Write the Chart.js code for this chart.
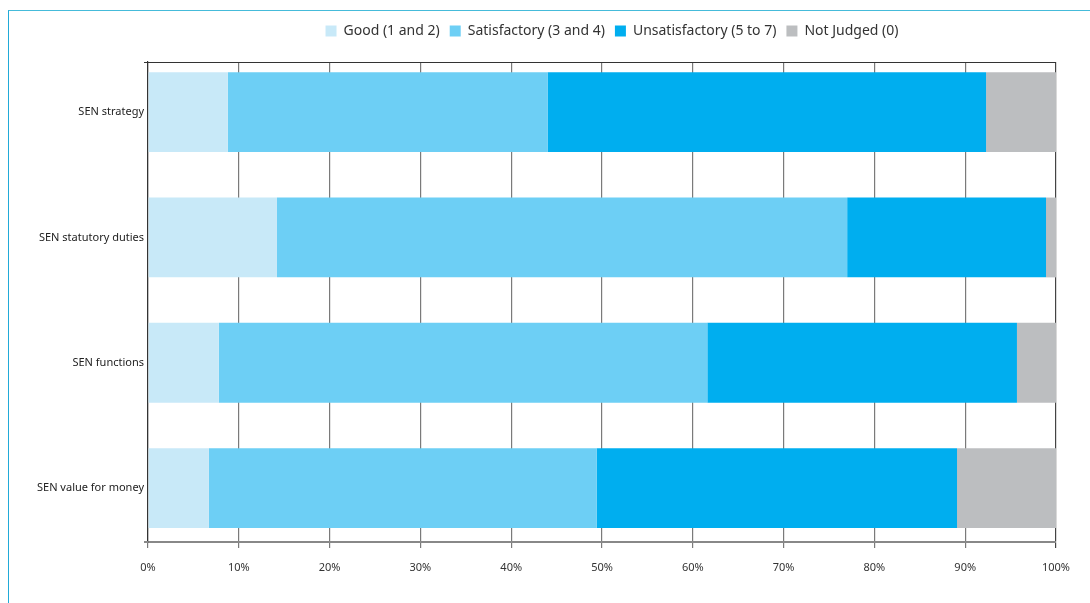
<!DOCTYPE html>
<html>
<head>
<meta charset="utf-8">
<script src="https://cdn.jsdelivr.net/npm/chart.js@4"></script>
<style>
  html, body { margin: 0; padding: 0; background: #fff; }
  #wrap { position: relative; width: 1090px; height: 603px; overflow: hidden; }
  #frame {
    position: absolute; left: 8px; top: 9.5px; width: 1200px; height: 700px;
    border-top: 1.5px solid #45bbda; border-left: 1.5px solid #21aad8;
  }
  #chart { position: absolute; left: 0; top: 0; }
</style>
</head>
<body>
<div id="wrap">
  <div id="frame"></div>
  <canvas id="chart" width="1090" height="603"></canvas>
</div>
<script>
const categories = ['SEN strategy', 'SEN statutory duties', 'SEN functions', 'SEN value for money'];
const seriesNames = ['Good (1 and 2)', 'Satisfactory (3 and 4)', 'Unsatisfactory (5 to 7)', 'Not Judged (0)'];
const good = [8.8, 14.2, 7.8, 6.7];
const satisfactory = [35.2, 62.8, 53.8, 42.7];
const unsatisfactory = [48.3, 21.9, 34.1, 39.7];
const notJudged = [7.7, 1.1, 4.3, 10.9];
const colours = ['#c8e9f8', '#6dcff5', '#00aeef', '#bcbec0'];

const FONT = "'Noto Sans', sans-serif";

// category rows sit on a numeric axis so the space above the first row and
// below the last one can differ
const rowAxisMin = -0.4;
const rowAxisMax = 3.43;

const plotEdges = {
  id: 'plotEdges',
  beforeInit(chart) {
    // extra space under the legend row
    const fit = chart.legend.fit;
    chart.legend.fit = function () {
      fit.call(this);
      this.height += 14;
    };
  },
  afterLayout(chart) {
    // centre the legend over the plot rather than the whole canvas
    const a = chart.chartArea;
    const shift = (a.left + a.right) / 2 - (chart.legend.left + chart.legend.right) / 2 + 10;
    chart.legend.left += shift;
    chart.legend.right += shift;
  },
  afterDraw(chart) {
    // top edge of the plot and the small stubs left of the axis
    const { ctx, chartArea: a } = chart;
    ctx.save();
    ctx.strokeStyle = '#333';
    ctx.lineWidth = 1.2;
    ctx.beginPath();
    ctx.moveTo(a.left - 4, a.top + 0.5);
    ctx.lineTo(a.right, a.top + 0.5);
    ctx.stroke();
    ctx.strokeStyle = '#888';
    ctx.lineWidth = 2;
    ctx.beginPath();
    ctx.moveTo(a.left - 4, a.bottom);
    ctx.lineTo(a.left, a.bottom);
    ctx.stroke();
    ctx.restore();
  }
};

new Chart(document.getElementById('chart'), {
  type: 'bar',
  data: {
    datasets: [good, satisfactory, unsatisfactory, notJudged].map((d, i) => ({
      label: seriesNames[i],
      data: d.map((v, j) => ({ x: v, y: j })),
      backgroundColor: colours[i],
      borderWidth: 0,
      barPercentage: 0.637,
      categoryPercentage: 1
    }))
  },
  options: {
    indexAxis: 'y',
    responsive: false,
    animation: false,
    layout: { padding: { top: 14, right: 34, left: 0, bottom: 0 } },
    plugins: {
      legend: {
        position: 'top',
        labels: {
          boxWidth: 11,
          boxHeight: 11,
          padding: 10,
          color: '#333',
          font: { family: FONT, size: 14 }
        }
      },
      tooltip: { enabled: false }
    },
    scales: {
      x: {
        type: 'linear',
        stacked: true,
        min: 0,
        max: 100,
        afterFit(scale) { scale.height = 61; },
        ticks: {
          stepSize: 10,
          padding: 13,
          color: '#333',
          font: { family: FONT, size: 11 },
          callback: v => v + '%'
        },
        grid: {
          color: ctx => (ctx.tick && ctx.tick.value === 100) ? '#444' : '#7a7a7a',
          lineWidth: 1.2,
          tickLength: 6
        },
        border: { color: '#888', width: 2 }
      },
      y: {
        type: 'linear',
        stacked: true,
        reverse: true,
        offset: false,
        min: rowAxisMin,
        max: rowAxisMax,
        afterFit(scale) { scale.width = 148; },
        ticks: {
          stepSize: 1,
          includeBounds: false,
          padding: 4,
          color: '#222',
          font: { family: FONT, size: 11 },
          callback: v => Number.isInteger(v) ? (categories[v] || '') : ''
        },
        grid: { display: false, drawTicks: false },
        border: { display: true, color: '#333', width: 1.2 }
      }
    }
  },
  plugins: [plotEdges]
});
</script>
</body>
</html>
